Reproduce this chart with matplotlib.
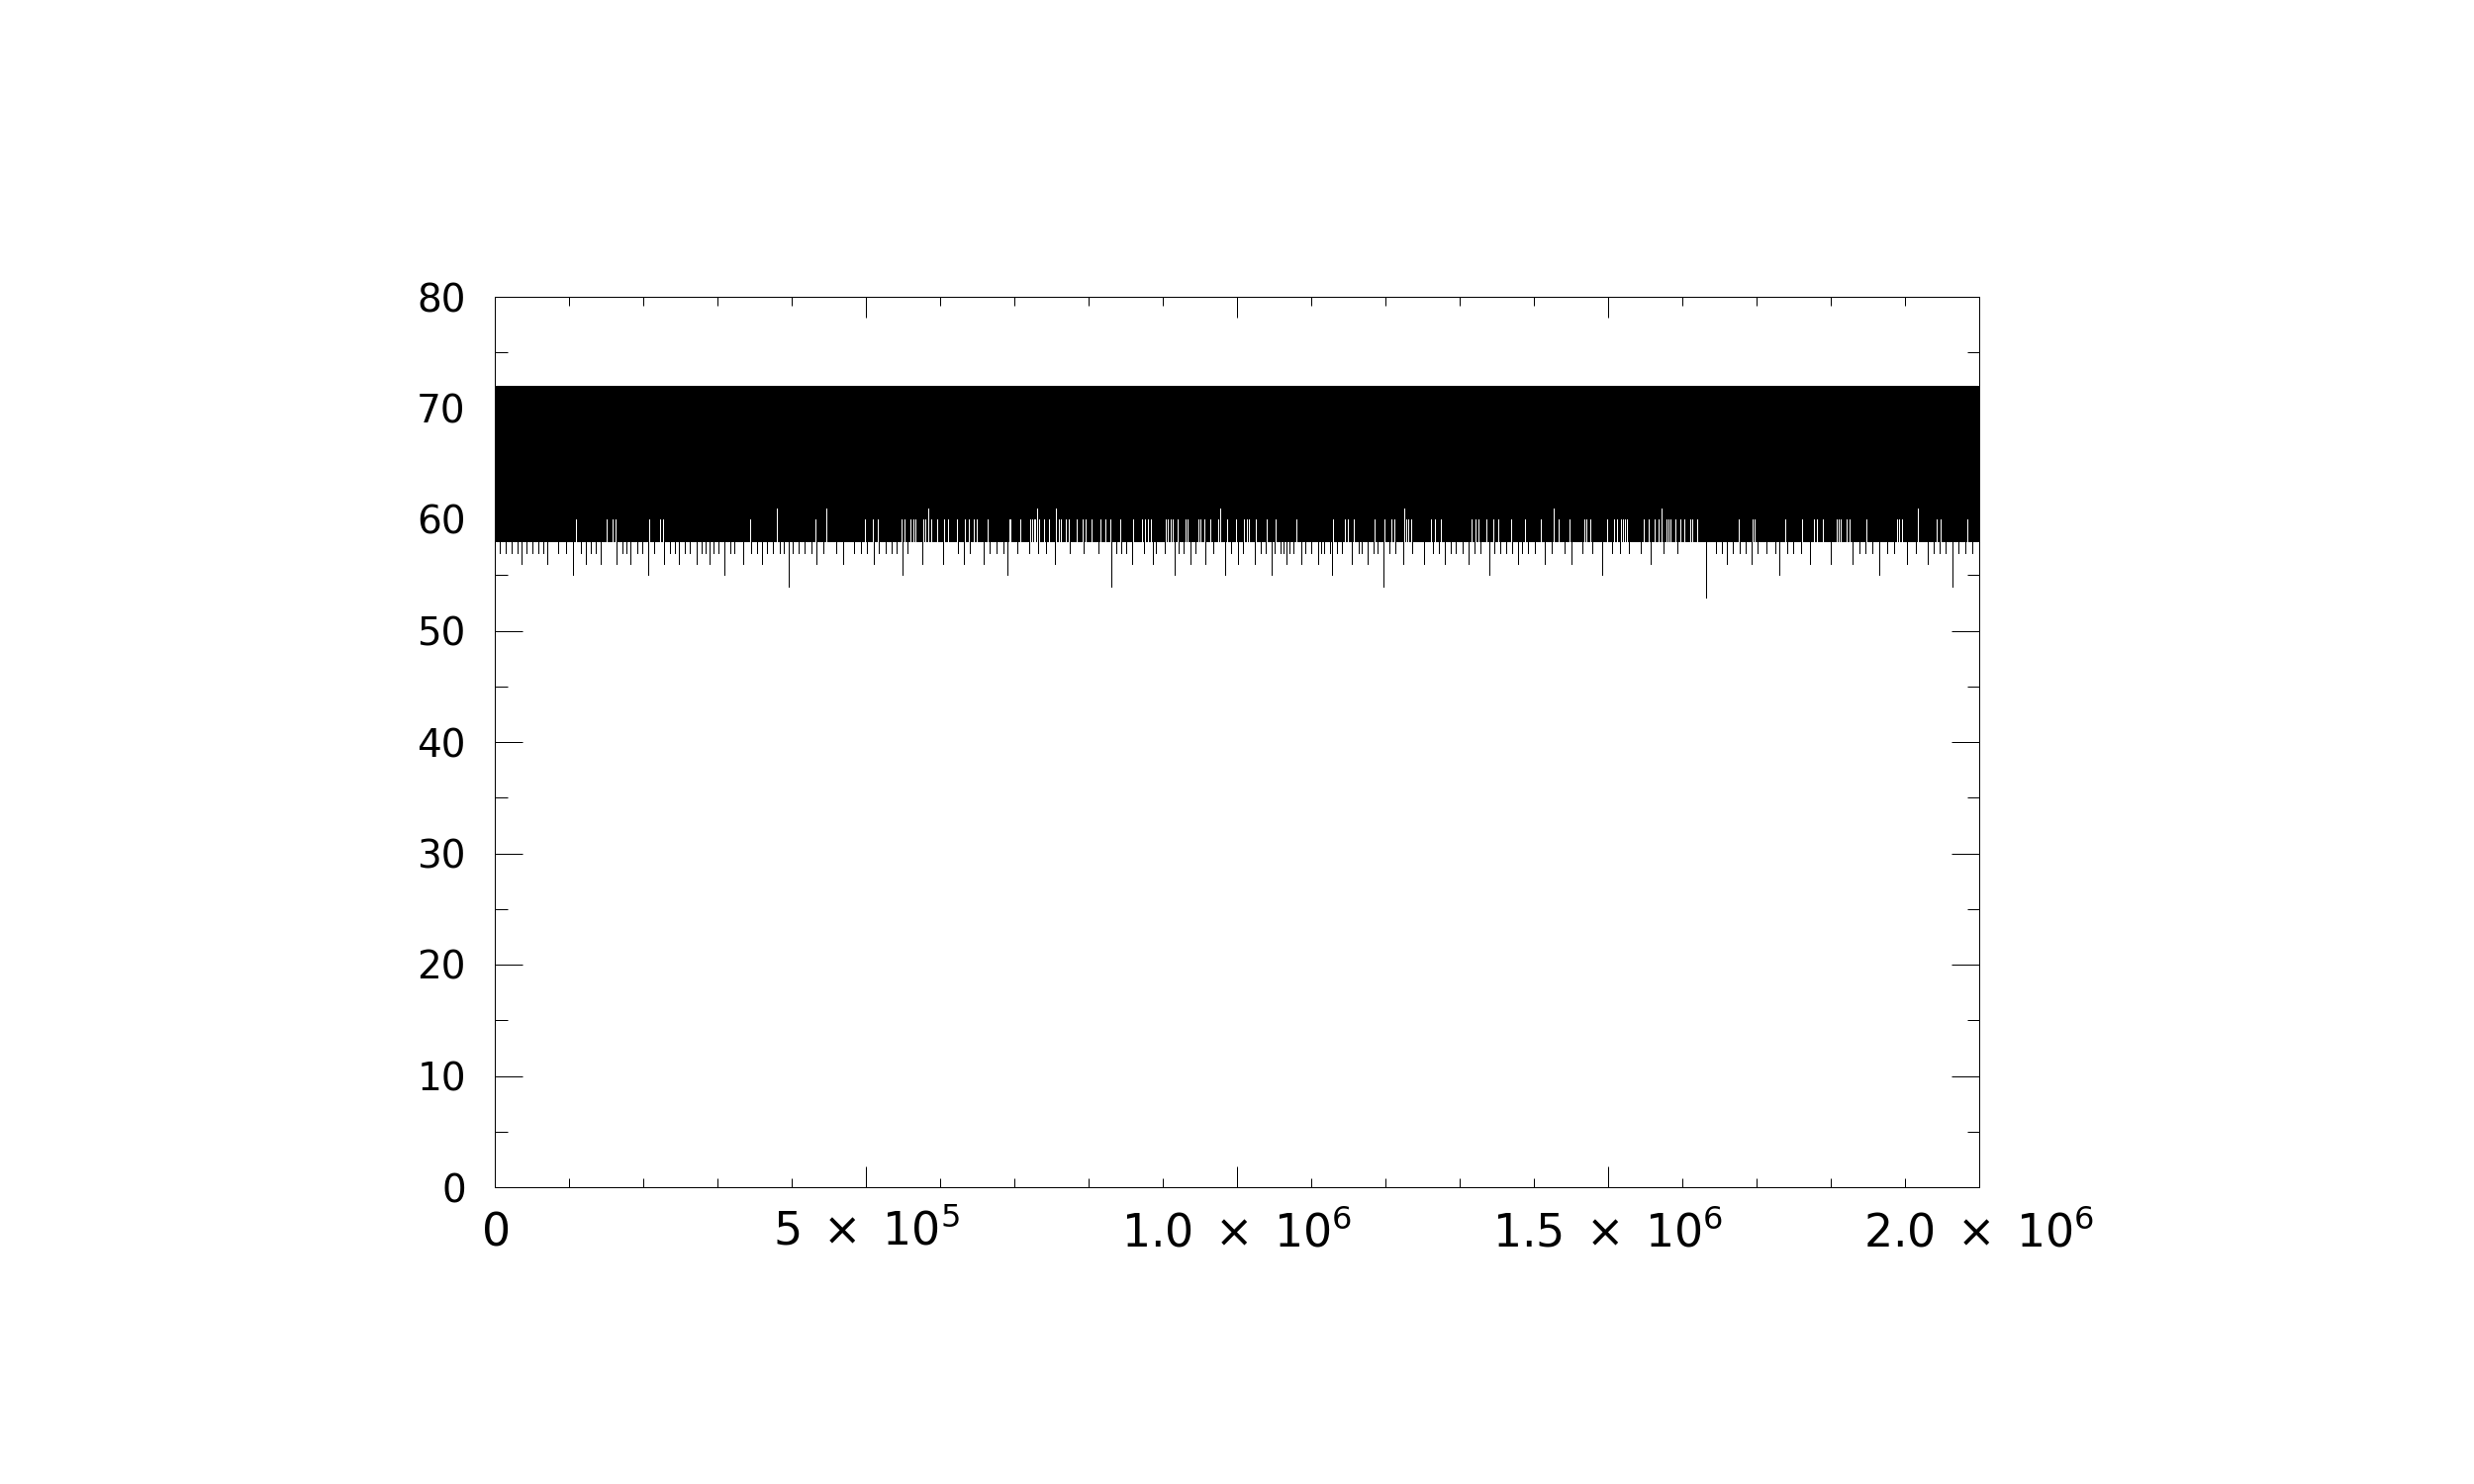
import numpy as np
import matplotlib.pyplot as plt
from matplotlib.ticker import MultipleLocator, FixedLocator, FixedFormatter

plt.rcParams['font.family'] = 'DejaVu Sans'
plt.rcParams['mathtext.fontset'] = 'dejavusans'

# signal envelope (sample index in thousands, value)
band_top = 72
band_floor = 58
x_max = 2000

# columns whose minimum stays above the floor
gap61_x = [380, 446, 584, 730, 756, 977, 1225, 1426, 1572, 1917]
gap60_x = [109, 150, 158, 162, 208, 222, 226,
           344, 432, 498, 509, 516, 548, 552, 560, 564, 566, 577, 580, 588, 596,
           605, 610, 622, 633, 638, 645, 649, 664,
           693, 694, 708, 721, 724, 726, 728, 733, 740, 746, 760, 762, 769, 773,
           784, 792, 796, 804, 816, 822, 829, 842, 860, 872, 876, 880, 884, 904,
           906, 910, 913, 920, 930, 933, 948, 950, 956, 964, 974, 986, 998, 1009,
           1013, 1016, 1025, 1040, 1052, 1080, 1129, 1145, 1149, 1157, 1185,
           1198, 1208, 1212, 1228, 1230, 1234, 1261, 1266, 1274, 1316, 1321, 1325,
           1336, 1345, 1352, 1369, 1388, 1409, 1433, 1448, 1468, 1470, 1476,
           1498, 1508, 1512, 1517, 1520, 1522, 1525, 1548, 1554, 1562, 1568,
           1578, 1581, 1584, 1590, 1597, 1602, 1610, 1613, 1620, 1676,
           1694, 1697, 1738, 1761, 1777, 1781, 1789, 1808, 1810, 1813, 1821,
           1825, 1848, 1889, 1892, 1896, 1942, 1948, 1984]

# columns dipping below the floor, grouped by minimum
dip57_x = [6, 14, 22, 30, 43, 51, 58, 65, 85, 96, 116, 129, 136, 172, 177, 192,
           198, 214, 236, 242, 256, 262, 278, 284, 294, 301, 317, 322,
           345, 353, 366, 374, 384, 389, 401, 409, 417, 426, 442, 460, 484, 493,
           501, 517, 526, 534, 541, 556, 624, 640, 666,
           676, 685, 704, 720, 732, 742, 774, 793, 813, 837, 844, 850, 874, 890,
           902, 921, 928, 944, 968, 992,
           1008, 1032, 1038, 1050, 1058, 1062, 1070, 1076, 1092, 1100, 1113,
           1117, 1125, 1134, 1141, 1164, 1168, 1184, 1189, 1205, 1213, 1236,
           1264, 1272, 1288, 1294, 1304, 1320, 1328, 1346,
           1354, 1362, 1370, 1384, 1392, 1401, 1424, 1441, 1465, 1478, 1505,
           1516, 1528, 1544, 1574, 1593, 1645, 1653, 1668, 1677, 1685,
           1701, 1713, 1725, 1741, 1749, 1760, 1838, 1846, 1856, 1876, 1885,
           1914, 1938, 1946, 1954, 1972, 1981, 1990]
dip56_x = [36, 70, 122, 142, 164, 182, 228, 248, 272, 289,
           334, 360, 433, 469, 510, 576, 604, 632, 658,
           754, 858, 886, 937, 957, 1001,
           1024, 1066, 1086, 1109, 1154, 1176, 1224, 1252, 1280, 1312,
           1378, 1414, 1450, 1557, 1660,
           1693, 1772, 1800, 1829, 1902, 1930]
dip55_x = [105, 206, 309, 549, 690, 916, 984, 1046, 1128, 1340, 1492, 1730, 1865]
dip54_x = [396, 830, 1197, 1964]
dip53_x = [1632]

fig = plt.figure(figsize=(25, 15), dpi=100)
ax = fig.add_axes([0.2, 0.2, 0.6, 0.6])

k = 1000.0
ax.fill_between([0, x_max * k], band_floor, band_top, color='black', lw=0)

# one-pixel lines
line_kw = dict(linewidths=0.72, antialiased=False)
ax.vlines(np.array(gap60_x) * k, band_floor, 60, colors='white', **line_kw)
ax.vlines(np.array(gap61_x) * k, band_floor, 61, colors='white', **line_kw)
for xs, lo in [(dip57_x, 57), (dip56_x, 56), (dip55_x, 55),
               (dip54_x, 54), (dip53_x, 53)]:
    ax.vlines(np.array(xs) * k, lo, band_floor, colors='black', **line_kw)

ax.set_xlim(0, x_max * k)
ax.set_ylim(0, 80)

xticks = [0, 5e5, 1e6, 1.5e6, 2e6]
xlabels = [r'$0$', r'$5\;\times\;10^{5}$', r'$1.0\;\times\;10^{6}$',
           r'$1.5\;\times\;10^{6}$', r'$2.0\;\times\;10^{6}$']
ax.xaxis.set_major_locator(FixedLocator(xticks))
ax.xaxis.set_major_formatter(FixedFormatter(xlabels))
ax.xaxis.set_minor_locator(MultipleLocator(1e5))
ax.yaxis.set_major_locator(MultipleLocator(10))
ax.yaxis.set_minor_locator(MultipleLocator(5))

ax.tick_params(which='both', direction='in', top=True, right=True, width=0.72,
               color='black')
ax.tick_params(axis='x', which='major', length=15, pad=17, labelsize=33)
ax.tick_params(axis='x', which='minor', length=6.5)
ax.tick_params(axis='y', which='major', length=20, pad=21, labelsize=28)
ax.tick_params(axis='y', which='minor', length=9)
for s in ax.spines.values():
    s.set_linewidth(0.72)

fig.savefig('out.png', dpi=100, facecolor='white')
